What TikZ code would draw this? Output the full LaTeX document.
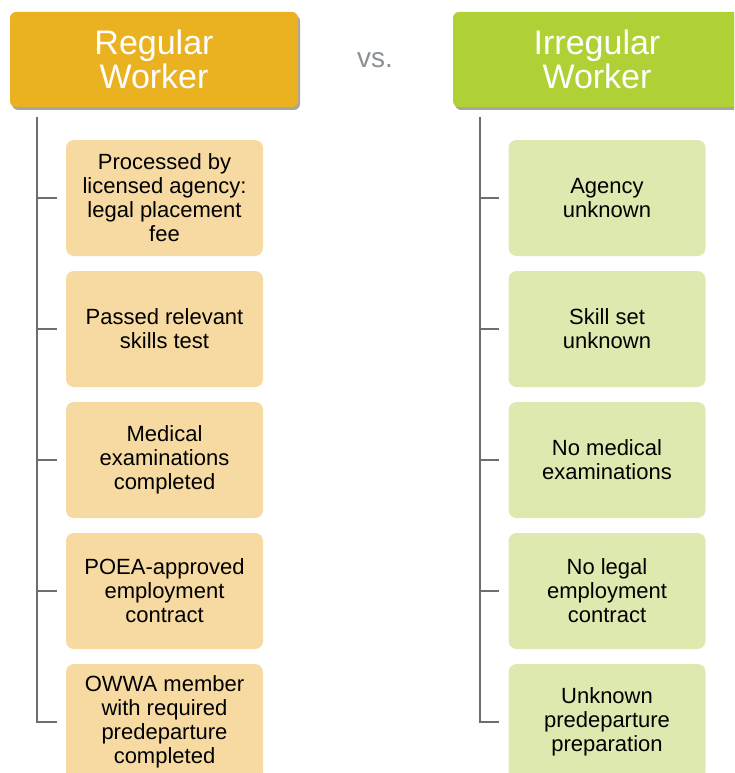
\documentclass[tikz,border=0pt]{standalone}
\usepackage{fontspec}
\setmainfont{Liberation Sans}
\usetikzlibrary{shadows}
\definecolor{regGold}{HTML}{EAB221}
\definecolor{irrGreen}{HTML}{B0D136}
\definecolor{regLight}{HTML}{F6DAA2}
\definecolor{irrLight}{HTML}{DEE9AF}
\definecolor{treeGray}{HTML}{6E6E6E}
\definecolor{vsGray}{HTML}{8C9196}
\tikzstyle{head}=[rectangle, rounded corners=6pt, minimum width=288pt, minimum height=95pt, inner sep=0pt, text=white, align=center, font=\fontsize{34}{34}\selectfont, drop shadow={shadow xshift=2pt, shadow yshift=-3pt, opacity=0.35, fill=black}]
\tikzstyle{item}=[rectangle, rounded corners=8pt, minimum width=197pt, minimum height=116pt, inner sep=0pt, align=center, font=\fontsize{22}{24}\selectfont]
\tikzstyle{tree}=[draw=treeGray, line width=1.3pt, shorten >=9pt]

\begin{document}
\begin{tikzpicture}[x=1pt, y=-1pt]
        \useasboundingbox (0,0) rectangle (734,773);
        \clip (0,0) rectangle (734,773);
        % headers
        \node(reg) [head, fill=regGold] at (154, 59.5){Regular\\Worker};
        \node(irr) [head, fill=irrGreen] at (597, 59.5){Irregular\\Worker};
        \node(vs) [text=vsGray, font=\fontsize{28}{28}\selectfont] at (375, 60){vs.};
        % regular column
        \node(r1) [item, fill=regLight] at (164.5, 198){Processed by\\licensed agency:\\legal placement\\fee};
        \node(r2) [item, fill=regLight] at (164.5, 329){Passed relevant\\skills test};
        \node(r3) [item, fill=regLight] at (164.5, 460){Medical\\examinations\\completed};
        \node(r4) [item, fill=regLight] at (164.5, 591){POEA-approved\\employment\\contract};
        \node(r5) [item, fill=regLight] at (164.5, 722){OWWA member\\with required\\predeparture\\completed};
        % irregular column
        \node(i1) [item, fill=irrLight] at (607, 198){Agency\\unknown};
        \node(i2) [item, fill=irrLight] at (607, 329){Skill set\\unknown};
        \node(i3) [item, fill=irrLight] at (607, 460){No medical\\examinations};
        \node(i4) [item, fill=irrLight] at (607, 591){No legal\\employment\\contract};
        \node(i5) [item, fill=irrLight] at (607, 722){Unknown\\predeparture\\preparation};
        % tree lines
        \coordinate(rTop) at (37, 117);
        \coordinate(iTop) at (480, 117);
        \draw[tree] (rTop) |- (r5);
        \draw[tree] (r1.west -| rTop) -- (r1.west);
        \draw[tree] (r2.west -| rTop) -- (r2.west);
        \draw[tree] (r3.west -| rTop) -- (r3.west);
        \draw[tree] (r4.west -| rTop) -- (r4.west);
        \draw[tree] (iTop) |- (i5);
        \draw[tree] (i1.west -| iTop) -- (i1.west);
        \draw[tree] (i2.west -| iTop) -- (i2.west);
        \draw[tree] (i3.west -| iTop) -- (i3.west);
        \draw[tree] (i4.west -| iTop) -- (i4.west);
     \end{tikzpicture}
\end{document}
